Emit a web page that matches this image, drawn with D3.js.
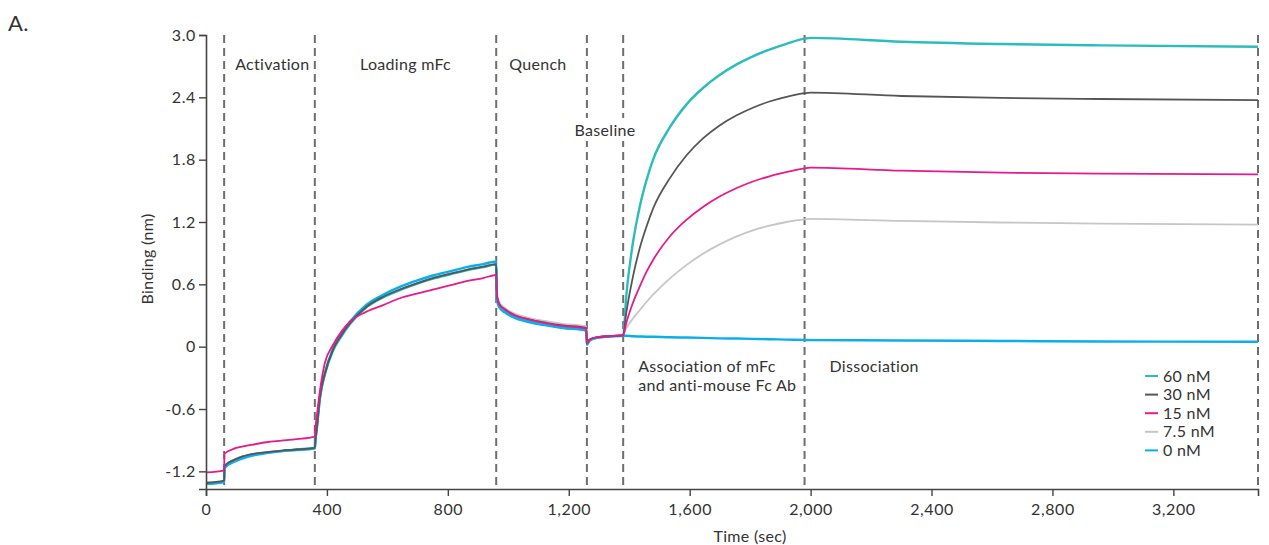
<!DOCTYPE html>
<html>
<head>
<meta charset="utf-8">
<script src="https://cdn.jsdelivr.net/npm/d3@7/dist/d3.min.js"></script>
<style>
  body { margin: 0; background: #fff; }
  svg text { font-family: Lato, "Open Sans", sans-serif; fill: #333; letter-spacing: 0.3px; }
</style>
</head>
<body>
<div id="chart"></div>
<script>
// sample times (sec) shared by every trace
const times = [0, 60, 61, 100, 150, 200, 250, 300, 360, 362, 366, 377, 393, 420, 448, 476, 531, 586, 641, 697, 751, 806, 862, 917, 960,
  962, 970, 988, 1016, 1071, 1126, 1181, 1258, 1260, 1269, 1292, 1346, 1380,
  1390, 1412, 1435, 1457, 1479, 1534, 1589, 1644, 1699, 1754, 1809, 1864, 1920, 1980,
  2000, 2300, 2630, 2960, 3480];

const nm60 = [-1.32, -1.30, -1.16, -1.09, -1.045, -1.02, -1.005, -0.995, -0.98, -0.90, -0.80, -0.49, -0.27, -0.04, 0.10, 0.215, 0.38, 0.475, 0.545, 0.605, 0.655, 0.695, 0.735, 0.765, 0.79,
  0.47, 0.39, 0.34, 0.29, 0.24, 0.21, 0.185, 0.16, 0.02, 0.06, 0.085, 0.10, 0.105,
  0.48, 0.995, 1.35, 1.60, 1.80, 2.11, 2.33, 2.49, 2.615, 2.715, 2.795, 2.86, 2.915, 2.965,
  2.972, 2.935, 2.913, 2.90, 2.887];

const nm30 = [-1.31, -1.29, -1.15, -1.08, -1.035, -1.015, -1.00, -0.99, -0.975, -0.90, -0.80, -0.48, -0.26, -0.03, 0.11, 0.225, 0.385, 0.48, 0.55, 0.61, 0.66, 0.70, 0.74, 0.77, 0.795,
  0.50, 0.41, 0.36, 0.31, 0.26, 0.23, 0.205, 0.18, 0.03, 0.07, 0.09, 0.103, 0.11,
  0.32, 0.67, 0.95, 1.155, 1.33, 1.62, 1.84, 2.005, 2.13, 2.225, 2.30, 2.36, 2.405, 2.44,
  2.445, 2.413, 2.394, 2.384, 2.374];

const nm15 = [-1.21, -1.19, -1.03, -0.975, -0.945, -0.92, -0.905, -0.89, -0.865, -0.78, -0.68, -0.42, -0.16, 0.016, 0.145, 0.24, 0.337, 0.40, 0.466, 0.51, 0.55, 0.59, 0.63, 0.66, 0.69,
  0.49, 0.41, 0.36, 0.31, 0.26, 0.225, 0.20, 0.175, 0.03, 0.07, 0.09, 0.103, 0.11,
  0.225, 0.42, 0.58, 0.72, 0.835, 1.06, 1.22, 1.345, 1.445, 1.525, 1.59, 1.64, 1.68, 1.717,
  1.723, 1.694, 1.675, 1.665, 1.659];

const nm7_5 = [-1.31, -1.29, -1.15, -1.08, -1.035, -1.015, -1.00, -0.99, -0.975, -0.90, -0.80, -0.48, -0.26, -0.03, 0.11, 0.225, 0.385, 0.48, 0.55, 0.61, 0.66, 0.70, 0.74, 0.77, 0.80,
  0.52, 0.43, 0.375, 0.325, 0.275, 0.245, 0.22, 0.195, 0.03, 0.07, 0.09, 0.103, 0.11,
  0.177, 0.27, 0.353, 0.43, 0.50, 0.655, 0.785, 0.895, 0.985, 1.06, 1.12, 1.165, 1.20, 1.225,
  1.23, 1.21, 1.195, 1.185, 1.175];

const nm0 = [-1.32, -1.30, -1.17, -1.10, -1.05, -1.025, -1.005, -0.99, -0.975, -0.90, -0.80, -0.49, -0.26, -0.02, 0.125, 0.24, 0.405, 0.50, 0.575, 0.635, 0.685, 0.725, 0.765, 0.795, 0.82,
  0.46, 0.38, 0.33, 0.285, 0.235, 0.205, 0.18, 0.155, 0.02, 0.06, 0.085, 0.10, 0.105,
  0.105, 0.10, 0.098, 0.096, 0.095, 0.09, 0.088, 0.085, 0.08, 0.078, 0.075, 0.072, 0.068, 0.065,
  0.063, 0.06, 0.055, 0.05, 0.047];

const seriesNames = ['60 nM', '30 nM', '15 nM', '7.5 nM', '0 nM'];
const seriesValues = [nm60, nm30, nm15, nm7_5, nm0];
const seriesColors = ['#2bbcbc', '#555555', '#e8198b', '#c6c6c6', '#0aaeea'];

// phase boundaries (sec)
const phaseEdges = [60, 360, 960, 1260, 1380, 1980, 3480];

const xTicks = [0, 400, 800, 1200, 1600, 2000, 2400, 2800, 3200];
const yTicks = [-1.2, -0.6, 0, 0.6, 1.2, 1.8, 2.4, 3.0];

const W = 1269, H = 545;
const svg = d3.select('#chart').append('svg').attr('width', W).attr('height', H);

const x = d3.scaleLinear().domain([0, 3480]).range([206, 1258]);
const y = d3.scaleLinear().domain([-1.37, 3.0]).range([489, 35]);

svg.append('text').attr('x', 8).attr('y', 31).attr('font-size', 22).text('A.');

// phase separators
svg.append('g').selectAll('line').data(phaseEdges).join('line')
  .attr('x1', d => x(d)).attr('x2', d => x(d))
  .attr('y1', 35).attr('y2', 489)
  .attr('stroke', '#6e6e6e').attr('stroke-width', 2)
  .attr('stroke-dasharray', '8,5');

// traces, lightest first
const line = d3.line().x(d => x(d[0])).y(d => y(d[1])).curve(d3.curveMonotoneX);
const drawOrder = [3, 0, 4, 1, 2];
svg.append('g').selectAll('path').data(drawOrder).join('path')
  .attr('fill', 'none')
  .attr('stroke', i => seriesColors[i])
  .attr('stroke-width', i => (i === 4 || i === 0) ? 2.4 : 1.8)
  .attr('stroke-linejoin', 'round')
  .attr('d', i => line(times.map((t, k) => [t, seriesValues[i][k]])));

// axes
const fmtX = d3.format(',');
const xAxis = svg.append('g').attr('transform', 'translate(0,489)')
  .call(d3.axisBottom(x).tickValues(xTicks).tickFormat(fmtX).tickSizeOuter(0).tickSize(7).tickPadding(8));
const yAxis = svg.append('g').attr('transform', 'translate(206,0)')
  .call(d3.axisLeft(y).tickValues(yTicks).tickFormat(d => d === 0 ? '0' : d3.format('.1f')(d).replace('−', '-')).tickSizeOuter(0).tickSize(7).tickPadding(3));

[xAxis, yAxis].forEach(g => {
  g.select('.domain').attr('stroke', '#444').attr('stroke-width', 1.6);
  g.selectAll('.tick line').attr('stroke', '#444').attr('stroke-width', 1.4);
  g.selectAll('.tick text').attr('font-size', 16).attr('fill', '#333')
    .style('font-family', 'Lato, "Open Sans", sans-serif').style('letter-spacing', '0.6px');
});

svg.append('text').attr('x', 750).attr('y', 542).attr('text-anchor', 'middle')
  .attr('font-size', 16).text('Time (sec)');
svg.append('text').attr('transform', 'translate(153,259) rotate(-90)')
  .attr('text-anchor', 'middle').attr('font-size', 16).text('Binding (nm)');

// phase labels
const labels = svg.append('g');
const lab = (tx, ty, s, anchor) => labels.append('text')
  .attr('x', tx).attr('y', ty).attr('font-size', 16)
  .attr('text-anchor', anchor || 'start').text(s);
lab(x(60) + 11, 70, 'Activation');
lab(x(660), 70, 'Loading mFc', 'middle');
lab(x(960) + 13, 70, 'Quench');
const bl = lab(x(1320), 136, 'Baseline', 'middle');
const bb = bl.node().getBBox();
labels.insert('rect', 'text').attr('x', bb.x - 3).attr('y', bb.y - 2)
  .attr('width', bb.width + 6).attr('height', bb.height + 4).attr('fill', '#ffffff');
lab(x(1380) + 15, 372, 'Association of mFc');
lab(x(1380) + 15, 391, 'and anti-mouse Fc Ab');
lab(x(1980) + 25, 372, 'Dissociation');

// legend
const leg = svg.append('g').attr('transform', 'translate(1145,376)');
seriesNames.forEach((n, i) => {
  const r = leg.append('g').attr('transform', `translate(0,${i * 18.6})`);
  r.append('line').attr('x1', 0).attr('x2', 13).attr('y1', 0).attr('y2', 0)
    .attr('stroke', seriesColors[i]).attr('stroke-width', 2);
  r.append('text').attr('x', 18).attr('y', 5.5).attr('font-size', 16).text(n);
});
</script>
</body>
</html>
